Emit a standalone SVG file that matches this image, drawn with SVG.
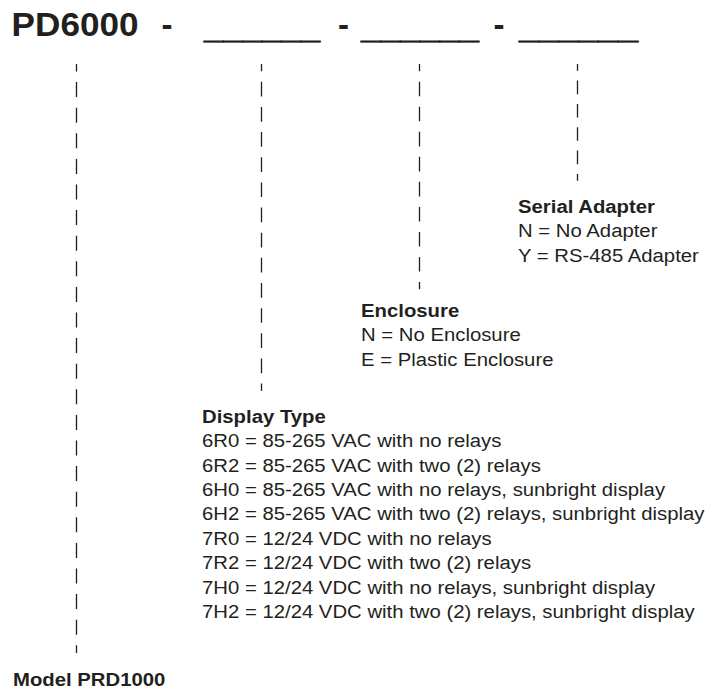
<svg xmlns="http://www.w3.org/2000/svg" width="723" height="689" viewBox="0 0 723 689">
<style>
text { font-family: "Liberation Sans", Arial, sans-serif; fill: #231f20; }
.t { font-size: 33px; font-weight: bold; }
.u { stroke: #231f20; stroke-width: 0.8; }
.b { font-size: 19px; }
.h { font-size: 19px; font-weight: bold; }
.dash { stroke: #231f20; stroke-width: 1.3; fill: none; }
</style>
<rect width="723" height="689" fill="#ffffff"/>
<g id="title">
  <text class="t" x="11.6" y="36" textLength="127" lengthAdjust="spacingAndGlyphs">PD6000</text>
  <text class="t" x="161.5" y="36">-</text>
  <text class="t u" x="204" y="38" textLength="116" lengthAdjust="spacingAndGlyphs">______</text>
  <text class="t" x="338" y="36">-</text>
  <text class="t u" x="361" y="38" textLength="118" lengthAdjust="spacingAndGlyphs">______</text>
  <text class="t" x="493.5" y="36">-</text>
  <text class="t u" x="519" y="38" textLength="119" lengthAdjust="spacingAndGlyphs">______</text>
</g>
<g id="connectors">
  <line class="dash" x1="76.5" y1="64" x2="76.5" y2="653" stroke-dasharray="15 10.6" stroke-dashoffset="7.5"/>
  <line class="dash" x1="261.5" y1="64" x2="261.5" y2="391" stroke-dasharray="14.7 10.45" stroke-dashoffset="7.35"/>
  <line class="dash" x1="419.5" y1="64" x2="419.5" y2="289.3" stroke-dasharray="14.6 10.43" stroke-dashoffset="7.3"/>
  <line class="dash" x1="577.5" y1="64" x2="577.5" y2="180.7" stroke-dasharray="13.6 9.74" stroke-dashoffset="6.8"/>
</g>
<g id="serial-adapter" transform="translate(518 0) scale(1.07 1)">
  <text class="h" x="0" y="213">Serial Adapter</text>
  <text class="b" x="0" y="237.5">N = No Adapter</text>
  <text class="b" x="0" y="262">Y = RS-485 Adapter</text>
</g>
<g id="enclosure" transform="translate(361 0) scale(1.07 1)">
  <text class="h" x="0" y="317">Enclosure</text>
  <text class="b" x="0" y="341.5">N = No Enclosure</text>
  <text class="b" x="0" y="366">E = Plastic Enclosure</text>
</g>
<g id="display-type" transform="translate(202 0) scale(1.07 1)">
  <text class="h" x="0" y="423">Display Type</text>
  <text class="b" x="0" y="447.5">6R0 = 85-265 VAC with no relays</text>
  <text class="b" x="0" y="472">6R2 = 85-265 VAC with two (2) relays</text>
  <text class="b" x="0" y="496.5">6H0 = 85-265 VAC with no relays, sunbright display</text>
  <text class="b" x="0" y="520.5">6H2 = 85-265 VAC with two (2) relays, sunbright display</text>
  <text class="b" x="0" y="545">7R0 = 12/24 VDC with no relays</text>
  <text class="b" x="0" y="569.5">7R2 = 12/24 VDC with two (2) relays</text>
  <text class="b" x="0" y="594">7H0 = 12/24 VDC with no relays, sunbright display</text>
  <text class="b" x="0" y="618">7H2 = 12/24 VDC with two (2) relays, sunbright display</text>
</g>
<g id="model" transform="translate(13 0) scale(1.07 1)">
  <text class="h" x="0" y="686">Model PRD1000</text>
</g>
</svg>
